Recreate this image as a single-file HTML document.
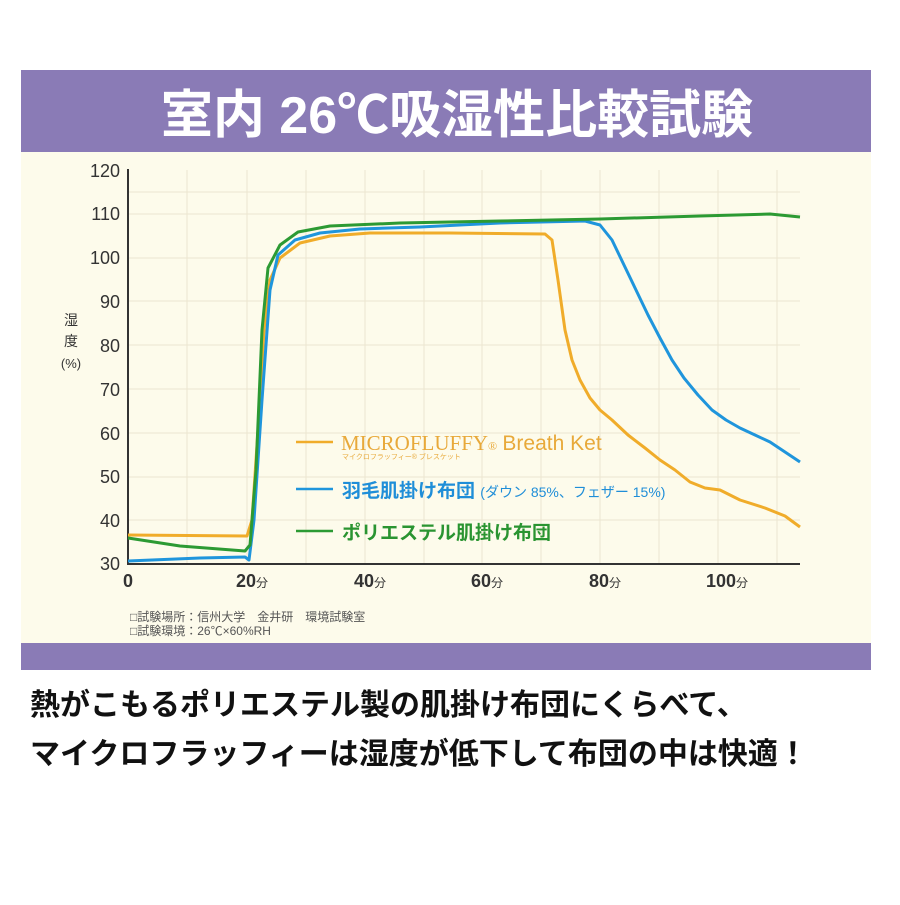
<!DOCTYPE html>
<html><head><meta charset="utf-8"><style>
body{margin:0;width:900px;height:900px;background:#fff;overflow:hidden}
</style></head><body>
<svg width="900" height="900" xmlns="http://www.w3.org/2000/svg" font-family="'Liberation Sans','Noto Sans CJK JP',sans-serif">
<rect x="21" y="70" width="850" height="600" fill="#fdfbeb"/>
<rect x="21" y="70" width="850" height="82" fill="#8a7bb6"/>
<rect x="21" y="643" width="850" height="27" fill="#8a7bb6"/>
<text x="457" y="133" text-anchor="middle" font-size="52" font-weight="bold" fill="#fff">室内 26℃吸湿性比較試験</text>
<g stroke="#ebe6d0" stroke-width="1">
<line x1="128" y1="192" x2="800" y2="192"/><line x1="128" y1="214" x2="800" y2="214"/><line x1="128" y1="258" x2="800" y2="258"/><line x1="128" y1="301" x2="800" y2="301"/><line x1="128" y1="345" x2="800" y2="345"/><line x1="128" y1="389" x2="800" y2="389"/><line x1="128" y1="433" x2="800" y2="433"/><line x1="128" y1="477" x2="800" y2="477"/><line x1="128" y1="520" x2="800" y2="520"/>
<line x1="187" y1="170" x2="187" y2="564"/><line x1="247" y1="170" x2="247" y2="564"/><line x1="306" y1="170" x2="306" y2="564"/><line x1="365" y1="170" x2="365" y2="564"/><line x1="424" y1="170" x2="424" y2="564"/><line x1="482" y1="170" x2="482" y2="564"/><line x1="541" y1="170" x2="541" y2="564"/><line x1="600" y1="170" x2="600" y2="564"/><line x1="659" y1="170" x2="659" y2="564"/><line x1="718" y1="170" x2="718" y2="564"/><line x1="777" y1="170" x2="777" y2="564"/>
</g>
<path d="M128 169V564H800" fill="none" stroke="#333" stroke-width="2"/>
<g font-size="18" fill="#333" text-anchor="end">
<text x="120" y="177">120</text><text x="120" y="220">110</text><text x="120" y="264">100</text><text x="120" y="308">90</text><text x="120" y="352">80</text><text x="120" y="396">70</text><text x="120" y="440">60</text><text x="120" y="483">50</text><text x="120" y="527">40</text><text x="120" y="570">30</text>
</g>
<g font-size="18" fill="#333" text-anchor="middle" font-weight="bold">
<text x="128" y="587">0</text><text x="252" y="587">20<tspan font-size="12" font-weight="normal">分</tspan></text><text x="370" y="587">40<tspan font-size="12" font-weight="normal">分</tspan></text><text x="487" y="587">60<tspan font-size="12" font-weight="normal">分</tspan></text><text x="605" y="587">80<tspan font-size="12" font-weight="normal">分</tspan></text><text x="727" y="587">100<tspan font-size="12" font-weight="normal">分</tspan></text>
</g>
<g font-size="14" fill="#333" text-anchor="middle"><text x="71" y="325">湿</text><text x="71" y="346">度</text><text x="71" y="368" font-size="13">(%)</text></g>
<g font-size="12" fill="#555"><text x="130" y="621">□試験場所：信州大学　金井研　環境試験室</text><text x="130" y="635">□試験環境：26℃×60%RH</text></g>
<g fill="none" stroke-width="3" stroke-linejoin="round">
<path stroke="#f0ac2a" d="M128 535L247 536L252 520L258 430L264 330L270 280L280 258L300 243L330 236L370 233L450 233L545 234L552 240L558 280L565 330L572 360L580 380L590 398L600 410L612 420L628 435L645 448L660 460L675 470L690 482L705 488L720 490L740 500L765 508L785 516L800 527"/>
<path stroke="#1f95dc" d="M128 561L200 558L245 557L249 560L254 520L262 400L270 290L278 255L295 240L320 233L360 229L420 227L500 223L585 221L600 225L612 240L624 265L636 290L648 315L660 338L672 360L684 378L698 395L712 410L726 420L740 428L755 435L770 442L785 452L800 462"/>
<path stroke="#2c9a33" d="M128 538L180 546L245 551L250 545L256 470L262 330L268 268L280 245L298 232L330 226L400 223L500 221L600 219L700 216L770 214L800 217"/>
</g>
<g stroke-width="2.5">
<line x1="296" y1="442" x2="333" y2="442" stroke="#f0ac2a"/>
<line x1="296" y1="489" x2="333" y2="489" stroke="#1f95dc"/>
<line x1="296" y1="531" x2="333" y2="531" stroke="#2c9a33"/>
</g>
<text x="341" y="450" font-size="21" fill="#e8a93a" font-family="'Liberation Serif',serif">MICROFLUFFY<tspan font-size="12">®</tspan> <tspan font-family="'Liberation Sans',sans-serif" font-size="21">Breath Ket</tspan></text>
<text x="342" y="459" font-size="7" fill="#e8a93a">マイクロフラッフィー® ブレスケット</text>
<text x="342" y="497" font-size="19" font-weight="bold" fill="#1f8ed8">羽毛肌掛け布団 <tspan font-size="14" font-weight="normal">(ダウン 85%、フェザー 15%)</tspan></text>
<text x="342" y="539" font-size="19" font-weight="bold" fill="#2a9431">ポリエステル肌掛け布団</text>
<g font-size="30" font-weight="bold" fill="#111"><text x="30" y="715">熱がこもるポリエステル製の肌掛け布団にくらべて、</text><text x="30" y="764">マイクロフラッフィーは湿度が低下して布団の中は快適！</text></g>
</svg>
</body></html>
